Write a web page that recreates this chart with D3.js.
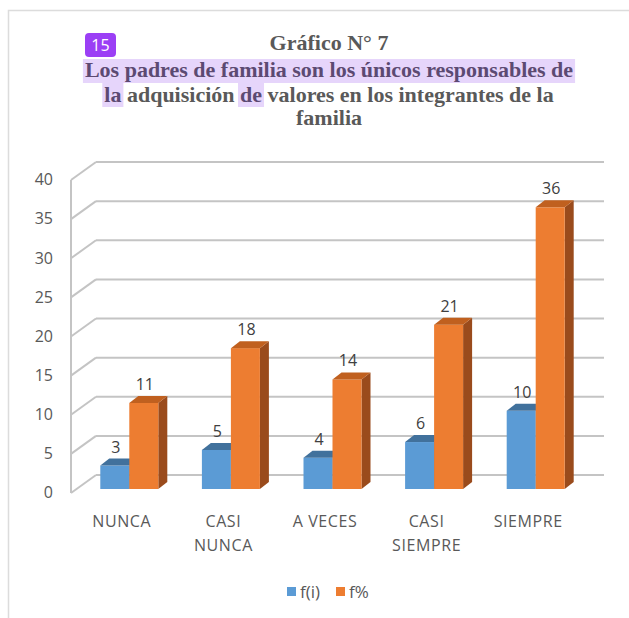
<!DOCTYPE html>
<html><head><meta charset="utf-8">
<script src="https://cdn.jsdelivr.net/npm/d3@7"></script>
<style>html,body{margin:0;padding:0;background:#fff;}svg{display:block;}</style>
</head><body>
<svg id="chart" width="629" height="618"></svg>
<script>
const categories = ["NUNCA", "CASI NUNCA", "A VECES", "CASI SIEMPRE", "SIEMPRE"];
const categoryLines = [["NUNCA"], ["CASI", "NUNCA"], ["A VECES"], ["CASI", "SIEMPRE"], ["SIEMPRE"]];
const seriesNames = ["f(i)", "f%"];
const fi = [3, 5, 4, 6, 10];
const fpct = [11, 18, 14, 21, 36];
const yTicks = [0, 5, 10, 15, 20, 25, 30, 35, 40];
const titleText = "Gráfico N° 7";
const subtitleLine1 = "Los padres de familia son los únicos responsables de";
const subtitleLine2 = [["la", true], [" adquisición ", false], ["de", true], [" valores en los integrantes de la", false]];
const subtitleLine3 = "familia";

const svg = d3.select("#chart");
const W = 629, H = 618;
const FONT = "'Open Sans', sans-serif";
const TXT = "#595959";
const GRID = "#c4c4c4";

// page border
svg.append("path").attr("d", `M8.5,${H} L8.5,10.5 L${W},10.5`).attr("fill", "none").attr("stroke", "#dcdcdc").attr("stroke-width", 1.5);

// scales
const y = d3.scaleLinear().domain([0, 40]).range([493, 180]);
const x = d3.scaleBand().domain(categories).range([71, 579]);
const DX = 25, DY = -18;           // wall depth
const BOX = 5.5, BOY = -4;         // bar front offset
const BDX = 9, BDY = -7;           // bar depth
const barW = 29;

const g = svg.append("g");
// back wall gridlines and side diagonals
yTicks.forEach(t => {
  g.append("line").attr("x1", 71 + DX).attr("x2", 579 + DX).attr("y1", y(t) + DY).attr("y2", y(t) + DY)
    .attr("stroke", GRID).attr("stroke-width", 2);
  g.append("line").attr("x1", 71).attr("x2", 71 + DX).attr("y1", y(t)).attr("y2", y(t) + DY)
    .attr("stroke", GRID).attr("stroke-width", 2);
});
g.append("line").attr("x1", 71).attr("x2", 71).attr("y1", y(40)).attr("y2", y(0))
  .attr("stroke", GRID).attr("stroke-width", 2);

// y tick labels
g.selectAll(".ytick").data(yTicks).join("text")
  .attr("x", 53).attr("y", d => y(d) + 1).attr("text-anchor", "end").attr("dominant-baseline", "middle")
  .attr("font-family", FONT).attr("font-size", 16).attr("fill", TXT).text(d => d);

// bars
const series = [
  { name: seriesNames[0], values: fi, front: "#5B9BD5", top: "#41719C", side: "#3F6E98" },
  { name: seriesNames[1], values: fpct, front: "#ED7D31", top: "#C0601F", side: "#9A4B1C" }
];
categories.forEach((c, i) => {
  const pairLeft = x(c) + x.bandwidth() / 2 - barW + 2 + BOX;
  series.forEach((s, si) => {
    const v = s.values[i];
    const x0 = pairLeft + si * barW, x1 = x0 + barW;
    const yb = y(0) + BOY, yt = y(v) + BOY;
    g.append("path").attr("d", `M${x1},${yb} L${x1 + BDX},${yb + BDY} L${x1 + BDX},${yt + BDY} L${x1},${yt} Z`).attr("fill", s.side);
    g.append("rect").attr("x", x0).attr("y", yt).attr("width", barW).attr("height", yb - yt).attr("fill", s.front);
    g.append("path").attr("d", `M${x0},${yt} L${x1},${yt} L${x1 + BDX},${yt + BDY} L${x0 + BDX},${yt + BDY} Z`).attr("fill", s.top);
  });
  series.forEach((s, si) => {
    const v = s.values[i];
    const x0 = pairLeft + si * barW;
    g.append("text").attr("x", x0 + barW / 2 + 1).attr("y", y(v) + BOY - 13).attr("text-anchor", "middle")
      .attr("font-family", FONT).attr("font-size", 16).attr("fill", "#404040").text(v);
  });
});

// category labels
categories.forEach((c, i) => {
  const t = g.append("text").attr("text-anchor", "middle").attr("font-family", FONT).attr("font-size", 16)
    .attr("fill", TXT).attr("letter-spacing", 0.6);
  categoryLines[i].forEach((ln, li) => {
    t.append("tspan").attr("x", x(c) + x.bandwidth() / 2).attr("y", 527 + li * 24).text(ln);
  });
});

// legend
const lg = svg.append("g");
const legendItems = [{ x: 287, s: series[0] }, { x: 336, s: series[1] }];
legendItems.forEach(it => {
  lg.append("rect").attr("x", it.x).attr("y", 587).attr("width", 9).attr("height", 9).attr("fill", it.s.front);
  lg.append("text").attr("x", it.x + 13).attr("y", 598).attr("font-family", FONT).attr("font-size", 17)
    .attr("fill", TXT).text(it.s.name);
});

// titles
const SERIF = "'Liberation Serif', 'Times New Roman', serif";
const FS = 22;
const HL_BG = "#e6d5fb", HL_TXT = "#5c4a72";
const cx = 329;
svg.append("text").attr("x", cx).attr("y", 50).attr("text-anchor", "middle").attr("font-family", SERIF)
  .attr("font-weight", "bold").attr("font-size", FS).attr("fill", TXT).text(titleText);

function measure(str) {
  const t = svg.append("text").attr("font-family", SERIF).attr("font-weight", "bold").attr("font-size", FS)
    .style("white-space", "pre").text(str);
  const w = t.node().getComputedTextLength();
  t.remove();
  return w;
}
const w1 = measure(subtitleLine1);
svg.append("rect").attr("x", cx - w1 / 2 - 2).attr("y", 59).attr("width", w1 + 4).attr("height", 24).attr("fill", HL_BG);
svg.append("text").attr("x", cx).attr("y", 77).attr("text-anchor", "middle").attr("font-family", SERIF)
  .attr("font-weight", "bold").attr("font-size", FS).attr("fill", HL_TXT).text(subtitleLine1);
const widths = subtitleLine2.map(s => measure(s[0]));
const total = d3.sum(widths);
let px = cx - total / 2;
subtitleLine2.forEach((s, i) => {
  if (s[1]) svg.append("rect").attr("x", px - 2).attr("y", 83).attr("width", widths[i] + 4).attr("height", 24).attr("fill", HL_BG);
  svg.append("text").attr("x", px).attr("y", 102).attr("font-family", SERIF).attr("font-weight", "bold")
    .attr("font-size", FS).attr("fill", s[1] ? HL_TXT : TXT).style("white-space", "pre").text(s[0]);
  px += widths[i];
});
svg.append("text").attr("x", cx).attr("y", 125).attr("text-anchor", "middle").attr("font-family", SERIF)
  .attr("font-weight", "bold").attr("font-size", FS).attr("fill", TXT).text(subtitleLine3);

// badge
svg.append("rect").attr("x", 85).attr("y", 33).attr("width", 31).attr("height", 24).attr("rx", 4).attr("fill", "#9B3FF5");
svg.append("text").attr("x", 100.5).attr("y", 51).attr("text-anchor", "middle").attr("font-family", FONT)
  .attr("font-size", 16).attr("fill", "#fff").text("15");
</script>
</body></html>
